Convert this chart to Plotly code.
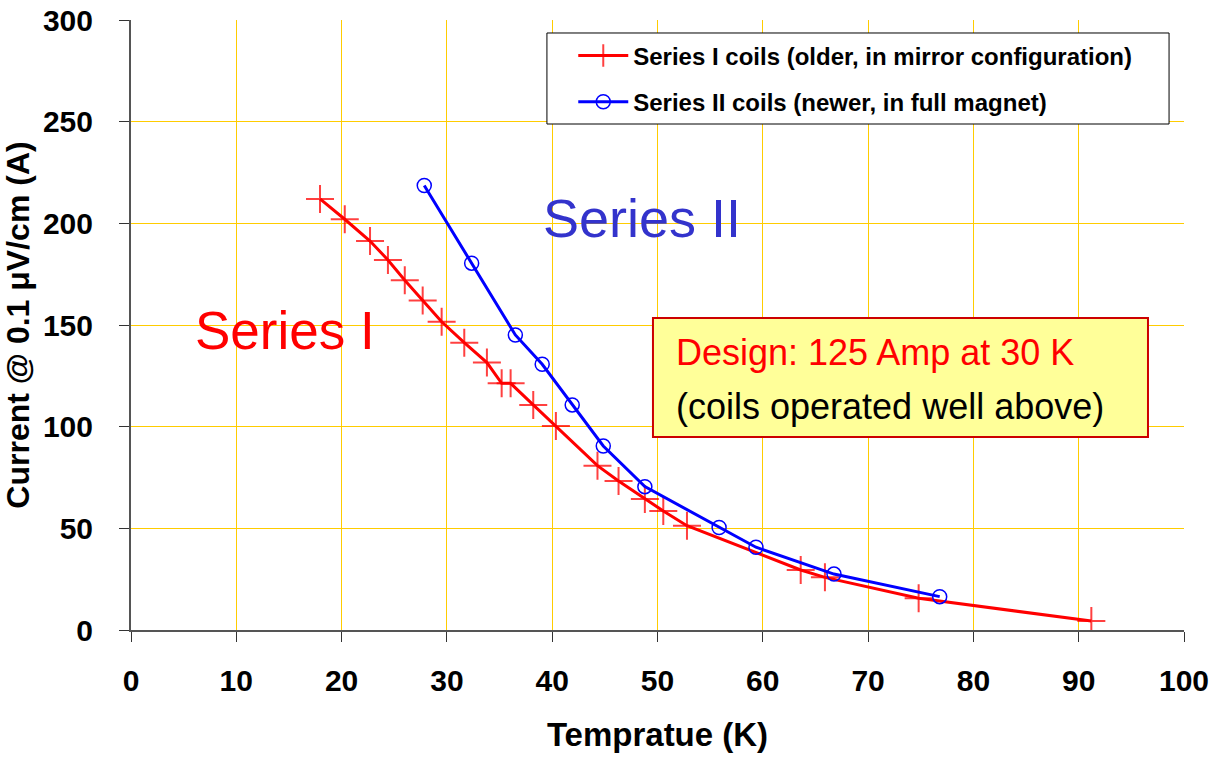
import plotly.graph_objects as go

# Series I coils (older, in mirror configuration)
s1_temp = [17.95, 20.3, 22.7, 24.4, 26.0, 27.7, 29.5, 31.65, 33.8, 35.2, 36.05, 38.2, 40.35,
           44.3, 46.3, 48.8, 50.55, 52.8, 63.6, 65.9, 74.8, 91.2]
s1_curr = [212, 202, 191.3, 182, 172, 162, 151.6, 141.3, 131.5, 121.3, 121.3, 110.7, 100.3,
           80.8, 73.3, 64.4, 58.5, 51.3, 29.5, 25.9, 15.6, 4.4]

# Series II coils (newer, in full magnet)
s2_temp = [27.85, 32.35, 36.5, 39.05, 41.9, 44.85, 48.8, 55.85, 59.35, 66.76, 76.8]
s2_curr = [218.6, 180.4, 145.1, 130.7, 110.7, 90.5, 70.5, 50.4, 40.7, 27.5, 16.4]

x_ticks = [0, 10, 20, 30, 40, 50, 60, 70, 80, 90, 100]
y_ticks = [0, 50, 100, 150, 200, 250, 300]

FONT = "Arial, Liberation Sans, sans-serif"

fig = go.Figure()
fig.add_trace(go.Scatter(
    x=s1_temp, y=s1_curr, mode="lines+markers", legendgroup="a",
    name="<b>Series I coils (older, in mirror configuration)</b>",
    line=dict(color="#FF0000", width=3),
    marker=dict(symbol="cross-thin", size=20, line=dict(color="rgba(255,0,0,0.75)", width=2)),
))
fig.add_trace(go.Scatter(
    x=s2_temp, y=s2_curr, mode="lines+markers", legendgroup="b",
    name="<b>Series II coils (newer, in full magnet)</b>",
    line=dict(color="#0000FF", width=3),
    marker=dict(symbol="circle-open", size=14, color="#0000FF", line=dict(color="#0000FF", width=1.5)),
))

# legend frame
fig.add_shape(type="rect", xref="paper", yref="paper", x0=0.395, x1=0.9858, y0=0.8295, y1=0.9787,
              fillcolor="white", line=dict(color="black", width=1), layer="above")

fig.add_annotation(x=14.6, y=147.5, xref="x", yref="y", text="Series I", showarrow=False,
                   font=dict(family=FONT, size=53, color="#FF0000"))
fig.add_annotation(x=48.5, y=202.5, xref="x", yref="y", text="Series II", showarrow=False,
                   font=dict(family=FONT, size=54, color="#3333CC"))

# design note box
fig.add_shape(type="rect", xref="paper", yref="paper", x0=0.4957, x1=0.9658, y0=0.3164, y1=0.5115,
              fillcolor="#FFFF99", line=dict(color="#CC0000", width=2), layer="above")
fig.add_annotation(x=0.5157, y=0.4557, xref="paper", yref="paper", xanchor="left", yanchor="middle",
                   text="Design: 125 Amp at 30 K", showarrow=False,
                   font=dict(family=FONT, size=36, color="#FF0000"))
fig.add_annotation(x=0.5157, y=0.3656, xref="paper", yref="paper", xanchor="left", yanchor="middle",
                   text="(coils operated well above)", showarrow=False,
                   font=dict(family=FONT, size=36, color="#000000"))

fig.update_layout(
    width=1211, height=760,
    margin=dict(l=131, r=27, t=20, b=130, autoexpand=False),
    paper_bgcolor="white", plot_bgcolor="white",
    font=dict(family=FONT, color="black"),
    showlegend=True,
    legend=dict(x=0.42, y=0.978, xanchor="left", yanchor="top",
                bgcolor="rgba(0,0,0,0)", borderwidth=0,
                font=dict(family=FONT, size=24, color="black"),
                itemwidth=50, traceorder="grouped", tracegroupgap=12),
)
fig.update_xaxes(
    range=[0, 100], tickvals=x_ticks, ticktext=[f"<b>{v}</b>" for v in x_ticks],
    showgrid=True, gridcolor="#FFCC00", gridwidth=1,
    showline=True, linecolor="#555555", linewidth=2,
    ticks="outside", ticklen=10, tickcolor="#333333", tickwidth=1,
    tickfont=dict(family=FONT, size=30, color="black"), ticklabelstandoff=13,
    title=dict(text="<b>Tempratue (K)</b>", font=dict(family=FONT, size=33, color="black"), standoff=27),
    zeroline=False, automargin=False,
)
fig.update_yaxes(
    range=[0, 300], tickvals=y_ticks, ticktext=[f"<b>{v}</b>" for v in y_ticks],
    showgrid=True, gridcolor="#FFCC00", gridwidth=1,
    showline=True, linecolor="#555555", linewidth=2,
    ticks="outside", ticklen=10, tickcolor="#333333", tickwidth=1,
    tickfont=dict(family=FONT, size=30, color="black"), ticklabelstandoff=20,
    title=dict(text="<b>Current @ 0.1 μV/cm (A)</b>", font=dict(family=FONT, size=32, color="black"), standoff=6),
    zeroline=False, automargin=False,
)

fig.write_html("out.html")
